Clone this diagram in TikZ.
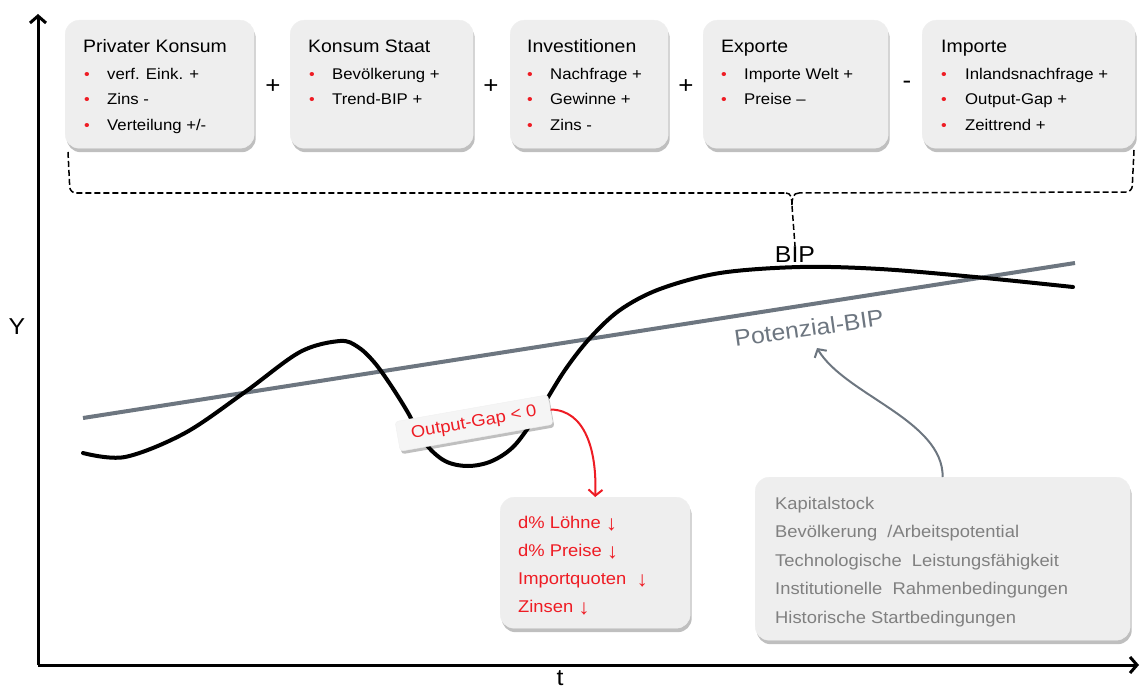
\documentclass[tikz,border=0pt]{standalone}
\usepackage{fontspec}
\setmainfont{Liberation Sans}[FakeStretch=1.08]
\usetikzlibrary{arrows.meta,shadows,calc}
\definecolor{boxfill}{HTML}{EEEEEE}
\definecolor{redt}{HTML}{EE1C24}
\definecolor{grayt}{HTML}{808080}
\definecolor{potline}{HTML}{6D7680}
\newcommand{\fs}[1]{\fontsize{#1}{#1}\selectfont}
\newcommand{\dn}{\raisebox{-2pt}{\fs{21}↓}}
\begin{document}
\begin{tikzpicture}[x=1pt,y=-1pt,
  card/.style={fill=boxfill, draw=black!6, rounded corners=14pt, anchor=north west, inner sep=0pt,
    drop shadow={shadow xshift=1.5pt,shadow yshift=-4pt,opacity=0.25,fill=black}},
  ttl/.style={anchor=base west, inner sep=0pt, font=\fs{18}},
  itm/.style={anchor=base west, inner sep=0pt, font=\fs{15.5}},
  dot/.style={anchor=base, inner sep=0pt, text=redt, font=\fs{15}},
  op/.style={inner sep=0pt, font=\fs{24}},
  rtxt/.style={anchor=base west, inner sep=0pt, text=redt, font=\fs{17}},
  gtxt/.style={anchor=base west, inner sep=0pt, text=grayt, font=\fs{17}},
  axis/.style={line width=3pt, -{Straight Barb[length=7pt,width=16pt]}},
  brace/.style={line width=1.5pt, dash pattern=on 6pt off 3pt},
  bipcurve/.style={line width=4pt, line cap=round},
  potcurve/.style={line width=4pt, draw=potline},
  gapbox/.style={fill=white!96!black, draw=black!6, rounded corners=3pt, inner sep=0pt, minimum width=155pt, minimum height=30pt,
    text=redt, font=\fs{17}, drop shadow={shadow xshift=1.5pt,shadow yshift=-3pt,opacity=0.25,fill=black}},
  rarrow/.style={line width=2pt, draw=redt, -{Straight Barb[length=6pt,width=14pt]}},
  garrow/.style={line width=2pt, draw=potline, -{Straight Barb[length=6pt,width=14pt]}}
]
\useasboundingbox (0,0) rectangle (1141,690);

% axes
\coordinate (o) at (38,665);
\coordinate (ytop) at (38,14);
\coordinate (xend) at (1139,665);
\draw[axis] (o) -- (ytop);
\draw[axis] (o) -- (xend);
\node[font=\fs{23}] (ylab) at (17,327) {Y};
\node[font=\fs{23}] (tlab) at (560,678) {t};

% top cards
\node[card, minimum width=189pt, minimum height=128pt] (pk) at (65,20) {};
\node[ttl] (pkt) at (83,53) {Privater Konsum};
\node[dot] (pkd1) at (87,80) {•}; \node[itm] (pk1) at (107,80) {verf. Eink. +};
\node[dot] (pkd2) at (87,105) {•}; \node[itm] (pk2) at (107,105) {Zins -};
\node[dot] (pkd3) at (87,131) {•}; \node[itm] (pk3) at (107,131) {Verteilung +/-};

\node[card, minimum width=183pt, minimum height=128pt] (ks) at (290,20) {};
\node[ttl] (kst) at (308,53) {Konsum Staat};
\node[dot] (ksd1) at (312,80) {•}; \node[itm] (ks1) at (332,80) {Bevölkerung +};
\node[dot] (ksd2) at (312,105) {•}; \node[itm] (ks2) at (332,105) {Trend-BIP +};

\node[card, minimum width=158pt, minimum height=128pt] (in) at (510,20) {};
\node[ttl] (int) at (527,53) {Investitionen};
\node[dot] (ind1) at (530,80) {•}; \node[itm] (in1) at (550,80) {Nachfrage +};
\node[dot] (ind2) at (530,105) {•}; \node[itm] (in2) at (550,105) {Gewinne +};
\node[dot] (ind3) at (530,131) {•}; \node[itm] (in3) at (550,131) {Zins -};

\node[card, minimum width=185pt, minimum height=128pt] (ex) at (703,20) {};
\node[ttl] (ext) at (721,53) {Exporte};
\node[dot] (exd1) at (724,80) {•}; \node[itm] (ex1) at (744,80) {Importe Welt +};
\node[dot] (exd2) at (724,105) {•}; \node[itm] (ex2) at (744,105) {Preise –};

\node[card, minimum width=213pt, minimum height=128pt] (im) at (922,20) {};
\node[ttl] (imt) at (941,53) {Importe};
\node[dot] (imd1) at (944,80) {•}; \node[itm] (im1) at (965,80) {Inlandsnachfrage +};
\node[dot] (imd2) at (944,105) {•}; \node[itm] (im2) at (965,105) {Output-Gap +};
\node[dot] (imd3) at (944,131) {•}; \node[itm] (im3) at (965,131) {Zeittrend +};

\node[op] (p1) at (273,87) {+};
\node[op] (p2) at (491,87) {+};
\node[op] (p3) at (686,87) {+};
\node[op] (m1) at (907,85) {-};

% brace
\node[font=\fs{23}, inner sep=1pt] (bip) at (795,255) {BIP};
\coordinate (bl) at (68,152);
\coordinate (br) at (1134,150);
\coordinate (bm) at (792,206);
\draw[brace, rounded corners=6pt] (bl) -- (70,193) -- (786,193);
\draw[brace] (786,193) .. controls (791,193) and (792,198) .. (bm);
\draw[brace, rounded corners=6pt] (br) -- (1132,192) -- (799,193);
\draw[brace] (799,193) .. controls (793,193) and (792,198) .. (bm);
\draw[brace] (bm) -- (bip.north);

% potential line
\coordinate (pl) at (83,418);
\coordinate (pr) at (1075,263);
\draw[potcurve] (pl) -- (pr);
\node[text=potline, font=\fs{23}, rotate=8, inner sep=0pt] (pot) at (809,328) {Potenzial-BIP};

% BIP curve
\draw[bipcurve] plot[smooth, tension=0.55] coordinates {(83,453) (125,457) (185,433) (245,392) (300,352) (340,341) (358,347) (374,362) (390,384) (407,411) (425,443) (445,461) (468,466) (492,461) (515,445) (540,410) (565,370) (590,338) (620,310) (660,289) (720,273) (800,267) (880,269) (975,277) (1073,287)};

% output gap
\node[gapbox, rotate=10] (gap) at (474,423) {Output-Gap < 0};

% red box
\node[card, minimum width=190pt, minimum height=131pt] (rb) at (500,497) {};
\node[rtxt] (r1) at (518,528) {d\% Löhne \dn};
\node[rtxt] (r2) at (518,556) {d\% Preise \dn};
\node[rtxt] (r3) at (518,584) {Importquoten \ \dn};
\node[rtxt] (r4) at (518,612) {Zinsen \dn};
\draw[rarrow] (gap.east) .. controls (585,410) and (597,450) .. (rb.north);

% gray box
\node[card, minimum width=375pt, minimum height=163pt] (gb) at (755,477) {};
\node[gtxt] (g1) at (775,509) {Kapitalstock};
\node[gtxt] (g2) at (775,537) {Bevölkerung \ /Arbeitspotential};
\node[gtxt] (g3) at (775,566) {Technologische \ Leistungsfähigkeit};
\node[gtxt] (g4) at (775,594) {Institutionelle \ Rahmenbedingungen};
\node[gtxt] (g5) at (775,623) {Historische Startbedingungen};
\coordinate (pottip) at (817,348);
\draw[garrow] (gb.north) .. controls (943,420) and (845,395) .. (pottip);
\end{tikzpicture}
\end{document}
